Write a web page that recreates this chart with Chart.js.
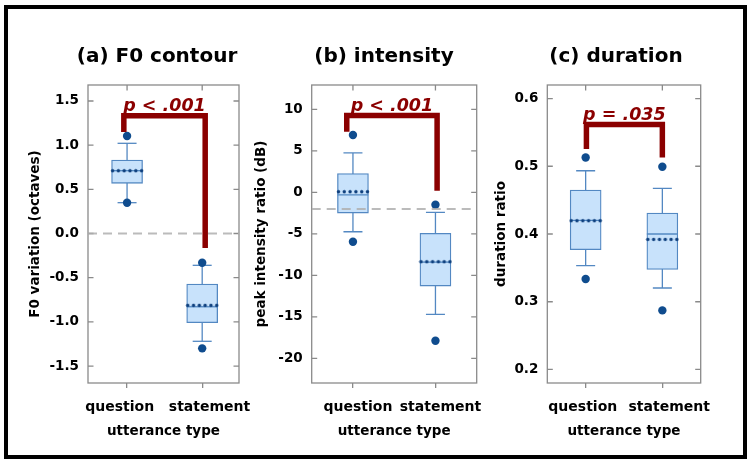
<!DOCTYPE html>
<html>
<head>
<meta charset="utf-8">
<script src="https://cdn.jsdelivr.net/npm/chart.js@4.4.1/dist/chart.umd.min.js"></script>
<style>
  body { margin: 0; background: #fff; }
  #frame { position: absolute; left: 4px; top: 5px; width: 743px; height: 454px;
           border: 4.5px solid #000; box-sizing: border-box; }
  canvas { position: absolute; top: 10px; }
</style>
</head>
<body>
<div id="frame"></div>
<canvas id="panelA" width="294" height="440" style="left:10px"></canvas>
<canvas id="panelB" width="268" height="440" style="left:250px"></canvas>
<canvas id="panelC" width="252" height="440" style="left:490px"></canvas>
<script>
const categories = ['question', 'statement'];

// (a) F0 contour
const f0Ticks = [-1.5, -1.0, -0.5, 0.0, 0.5, 1.0, 1.5];
const f0TickLabels = ['-1.5', '-1.0', '-0.5', '0.0', '0.5', '1.0', '1.5'];
const f0WhiskerLow = [0.349, -1.22];
const f0Q1 = [0.568, -1.01];
const f0Median = [0.711, -0.829];
const f0Mean = [0.711, -0.813];
const f0Q3 = [0.832, -0.572];
const f0WhiskerHigh = [1.021, -0.36];
const f0Outliers = [[1.104, 0.349], [-0.331, -1.30]];
const f0BracketX = [0.957, 0.957, 2.04, 2.04];
const f0BracketY = [1.149, 1.333, 1.333, -0.164];

// (b) intensity
const intTicks = [-20, -15, -10, -5, 0, 5, 10];
const intTickLabels = ['-20', '-15', '-10', '-5', '0', '5', '10'];
const intWhiskerLow = [-4.75, -14.7];
const intQ1 = [-2.5, -11.29];
const intMedian = [-0.3, -8.4];
const intMean = [0.07, -8.36];
const intQ3 = [2.25, -4.94];
const intWhiskerHigh = [4.75, -2.41];
const intOutliers = [[6.9, -5.95], [-1.49, -17.88]];
const intBracketX = [0.925, 0.925, 2.02, 2.02];
const intBracketY = [7.3, 9.25, 9.25, 0.2];

// (c) duration
const durTicks = [0.2, 0.3, 0.4, 0.5, 0.6];
const durTickLabels = ['0.2', '0.3', '0.4', '0.5', '0.6'];
const durWhiskerLow = [0.3532, 0.3203];
const durQ1 = [0.3768, 0.3478];
const durMedian = [0.42, 0.40];
const durMean = [0.4196, 0.392];
const durQ3 = [0.465, 0.431];
const durWhiskerHigh = [0.4934, 0.4673];
const durOutliers = [[0.513, 0.3336], [0.4993, 0.2872]];
const durBracketX = [1.01, 1.01, 2.0, 2.0];
const durBracketY = [0.5255, 0.5615, 0.5615, 0.513];

const pLabels = ['p < .001', 'p < .001', 'p = .035'];

Chart.defaults.font.family = '"DejaVu Sans", sans-serif';
Chart.defaults.font.weight = 'bold';
Chart.defaults.color = '#000';
Chart.defaults.animation = false;

const BOX_LINE = '#5388c2';
const BOX_FILL = '#c8e2fb';
const DOT = '#0f4c8e';
const SIG = '#8b0000';
const FRAME = '#8a8a8a';

// row of dots used to mark the mean
function meanMarker() {
  const c = document.createElement('canvas');
  c.width = 34; c.height = 5;
  const g = c.getContext('2d');
  g.fillStyle = '#0e3f7d';
  for (let i = 0; i < 6; i++) {
    g.beginPath();
    g.arc(2.5 + i * 5.8, 2.5, 1.7, 0, Math.PI * 2);
    g.fill();
  }
  return c;
}
const meanImg = meanMarker();

const frameTicks = {
  id: 'frameTicks',
  beforeDatasetsDraw(chart) {
    const {ctx, chartArea: a, scales: {x, y}} = chart;
    ctx.save();
    ctx.strokeStyle = FRAME;
    ctx.lineWidth = 1.3;
    ctx.strokeRect(a.left, a.top, a.right - a.left, a.bottom - a.top);
    ctx.beginPath();
    y.ticks.forEach(t => {
      const py = y.getPixelForValue(t.value);
      ctx.moveTo(a.left, py); ctx.lineTo(a.left + 5.5, py);
      ctx.moveTo(a.right, py); ctx.lineTo(a.right - 5.5, py);
    });
    x.ticks.forEach(t => {
      const px = x.getPixelForValue(t.value);
      ctx.moveTo(px, a.top); ctx.lineTo(px, a.top + 5.5);
    });
    ctx.stroke();
    ctx.restore();
  }
};

const pLabel = {
  id: 'pLabel',
  afterDatasetsDraw(chart, args, opts) {
    const {ctx, scales: {x, y}} = chart;
    const cx = x.getPixelForValue((opts.bx[0] + opts.bx[3]) / 2);
    const cy = y.getPixelForValue(opts.by[1]);
    ctx.save();
    ctx.font = 'italic bold 17.5px "DejaVu Sans"';
    ctx.fillStyle = SIG;
    ctx.textAlign = 'center';
    ctx.textBaseline = 'alphabetic';
    ctx.fillText(opts.text, cx, cy - 5);
    ctx.restore();
  }
};

function boxDatasets(p) {
  const xs = [1, 2];
  const ds = [];
  if (p.ref !== null) {
    ds.push({type: 'line', data: [{x: p.xMin, y: p.ref}, {x: p.xMax, y: p.ref}],
      borderColor: 'rgba(175,175,175,0.85)', borderWidth: 2, borderDash: [9, 6],
      pointRadius: 0, order: 3});
  }
  xs.forEach((x, i) => {
    ds.push({type: 'line', data: [{x, y: p.low[i]}, {x, y: p.high[i]}],
      borderColor: BOX_LINE, borderWidth: 1.3, pointRadius: 0, order: 20});
  });
  ds.push({type: 'scatter', data: xs.flatMap((x, i) => [{x, y: p.low[i]}, {x, y: p.high[i]}]),
    pointStyle: 'line', pointRadius: 9.5, pointBorderColor: BOX_LINE, pointBorderWidth: 1.3, order: 19});
  ds.push({type: 'bar', data: xs.map((x, i) => ({x, y: [p.q1[i], p.q3[i]]})),
    backgroundColor: BOX_FILL, borderColor: BOX_LINE, borderWidth: 1.3,
    borderSkipped: false, barThickness: 31, order: 10});
  ds.push({type: 'scatter', data: xs.map((x, i) => ({x, y: p.median[i]})),
    pointStyle: 'line', pointRadius: 15.5, pointBorderColor: BOX_LINE, pointBorderWidth: 1.3, order: 8});
  ds.push({type: 'scatter', data: xs.map((x, i) => ({x, y: p.mean[i]})),
    pointStyle: meanImg, order: 7});
  ds.push({type: 'scatter', data: xs.flatMap((x, i) => p.outliers[i].map(y => ({x, y}))),
    pointRadius: 4.2, pointBackgroundColor: DOT, pointBorderWidth: 0, order: 6});
  ds.push({type: 'line', data: p.bx.map((x, i) => ({x, y: p.by[i]})),
    borderColor: SIG, borderWidth: 5.5, borderJoinStyle: 'miter', borderCapStyle: 'butt',
    pointRadius: 0, order: 2});
  return ds;
}

function makePanel(id, p) {
  const gap = ' '.repeat(p.labelSpread);
  new Chart(document.getElementById(id), {
    type: 'bar',
    data: {datasets: boxDatasets(p)},
    plugins: [frameTicks, pLabel],
    options: {
      responsive: false,
      events: [],
      layout: {padding: 0},
      plugins: {
        legend: {display: false},
        tooltip: {enabled: false},
        title: {display: true, text: p.title, font: {size: 20}, padding: {top: 34.7, bottom: 16.3}},
        pLabel: {bx: p.bx, by: p.by, text: p.pText}
      },
      scales: {
        x: {
          type: 'linear', min: p.xMin, max: p.xMax, offset: false,
          afterBuildTicks: s => { s.ticks = [{value: 1}, {value: 2}]; },
          afterFit: s => { s.height = 67; },
          ticks: {callback: (v, i) => i === 0 ? categories[0] + gap : gap + categories[1],
                  font: {size: 14}, padding: 11, labelOffset: p.labelShift,
                  maxRotation: 0, autoSkip: false},
          grid: {drawOnChartArea: false, offset: false, tickLength: 5, color: FRAME, lineWidth: 1.3},
          border: {display: false},
          title: {display: true, text: 'utterance type', font: {size: 13.5},
                  padding: {top: 0, bottom: 10.9}}
        },
        y: {
          type: 'linear', min: p.yMin, max: p.yMax,
          afterBuildTicks: s => { s.ticks = p.ticks.map(v => ({value: v})); },
          afterFit: s => { s.width = p.yWidth; },
          ticks: {callback: (v, i) => p.tickLabels[i], font: {size: 13.5}, padding: 9},
          grid: {display: false, drawTicks: false},
          border: {display: false},
          title: {display: true, text: p.yTitle, font: {size: 13.5},
                  padding: {top: p.yTitlePad, bottom: 0}}
        },
        pad: {
          type: 'linear', position: 'right', display: true,
          ticks: {display: false}, grid: {display: false, drawTicks: false}, border: {display: false},
          afterFit: s => { s.width = p.padRight; }
        }
      }
    }
  });
}

makePanel('panelA', {
  title: '(a) F0 contour', yTitle: 'F0 variation (octaves)',
  yMin: -1.692, yMax: 1.681, xMin: 0.48, xMax: 2.49,
  ticks: f0Ticks, tickLabels: f0TickLabels,
  low: f0WhiskerLow, q1: f0Q1, median: f0Median, mean: f0Mean, q3: f0Q3, high: f0WhiskerHigh,
  outliers: f0Outliers, bx: f0BracketX, by: f0BracketY, pText: pLabels[0], ref: 0,
  yWidth: 78, padRight: 65, yTitlePad: 16.9, labelSpread: 3, labelShift: 0
});
makePanel('panelB', {
  title: '(b) intensity', yTitle: 'peak intensity ratio (dB)',
  yMin: -22.97, yMax: 12.93, xMin: 0.5, xMax: 2.5,
  ticks: intTicks, tickLabels: intTickLabels,
  low: intWhiskerLow, q1: intQ1, median: intMedian, mean: intMean, q3: intQ3, high: intWhiskerHigh,
  outliers: intOutliers, bx: intBracketX, by: intBracketY, pText: pLabels[1], ref: -2,
  yWidth: 61.7, padRight: 41.3, yTitlePad: 2.9, labelSpread: 0, labelShift: 5
});
makePanel('panelC', {
  title: '(c) duration', yTitle: 'duration ratio',
  yMin: 0.18, yMax: 0.62, xMin: 0.5, xMax: 2.5,
  ticks: durTicks, tickLabels: durTickLabels,
  low: durWhiskerLow, q1: durQ1, median: durMedian, mean: durMean, q3: durQ3, high: durWhiskerHigh,
  outliers: durOutliers, bx: durBracketX, by: durBracketY, pText: pLabels[2], ref: null,
  yWidth: 57.3, padRight: 41.3, yTitlePad: 3.5, labelSpread: 2, labelShift: 2
});
</script>
</body>
</html>
